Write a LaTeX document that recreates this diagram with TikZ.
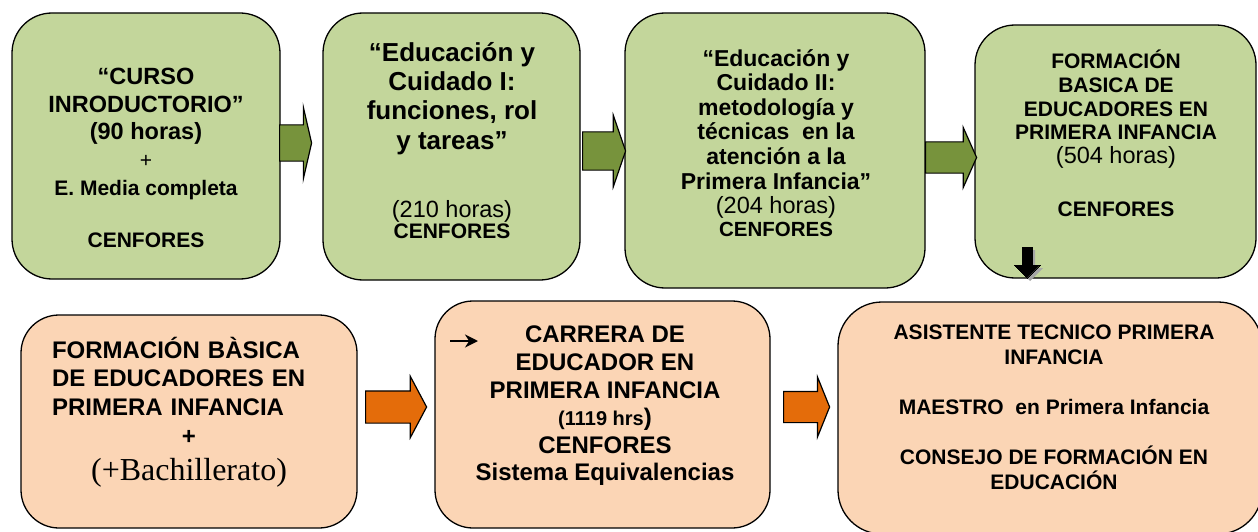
\documentclass[tikz,border=0pt]{standalone}
\usepackage{fontspec}
\setmainfont{Liberation Sans}
\newfontfamily\timesfont{Liberation Serif}
\usetikzlibrary{shapes.arrows,shadows,arrows.meta}

\definecolor{boxgreen}{HTML}{C3D69B}
\definecolor{arrowgreen}{HTML}{77933C}
\definecolor{boxorange}{HTML}{FBD5B5}
\definecolor{arroworange}{HTML}{E46C0A}

\newcommand{\fsz}[2]{\fontsize{#1}{#2}\selectfont}

\tikzset{
  course/.style={draw=black, line width=1.3pt, rounded corners=40pt, inner sep=0pt, fill=boxgreen},
  career/.style={course, rounded corners=38pt, fill=boxorange},
  txt/.style={anchor=north, inner sep=0pt, align=center},
  blockarrow/.style={single arrow, draw=black, line width=1.2pt, inner xsep=0pt, anchor=tail},
  garrow/.style={blockarrow, fill=arrowgreen},
  oarrow/.style={blockarrow, fill=arroworange},
}

\begin{document}
\begin{tikzpicture}[x=1pt,y=-1pt]
    \useasboundingbox (0,0) rectangle (1258,532);

    % first row: the courses
    \node[course, minimum width=268pt, minimum height=266pt] (b1) at (146,146) {};
    \node[course, minimum width=257pt, minimum height=267pt] (b2) at (451.5,146.5) {};
    \node[course, minimum width=300pt, minimum height=275pt] (b3) at (775,150.5) {};
    \node[course, minimum width=281pt, minimum height=253pt] (b4) at (1115.5,151.5) {};

    \node[txt, font=\fsz{23.5}{27.6}\bfseries] (t1) at (146,68) {“CURSO\\
        INRODUCTORIO”\\
        (90 horas)\\
        {\mdseries\fsz{21}{27.6}+}\\
        {\fsz{21}{27.6}E. Media completa}\\[25pt]
        {\fsz{21}{27.6}CENFORES}};
    \node[txt, font=\fsz{26}{29.3}\bfseries] (t2) at (452,42) {“Educación y\\
        Cuidado I:\\
        funciones, rol\\
        y tareas”\\[39pt]
        {\mdseries\fsz{23.5}{29.3}(210 horas)}\\[-8pt]
        {\fsz{21}{29.3}CENFORES}};
    \node[txt, font=\fsz{23}{24.6}\bfseries] (t3) at (776,49) {“Educación y\\
        Cuidado II:\\
        metodología y\\
        técnicas~ en la\\
        atención a la\\
        Primera Infancia”\\
        {\mdseries\fsz{23.5}{24.6}(204 horas)}\\[-1.5pt]
        {\fsz{20.5}{24.6}CENFORES}};
    \node[txt, font=\fsz{21}{23.7}\bfseries] (t4) at (1116,50) {FORMACIÓN\\
        BASICA DE\\
        EDUCADORES EN\\
        PRIMERA INFANCIA\\
        {\mdseries\fsz{23.5}{23.7}(504 horas)}\\[29pt]
        CENFORES};

    \node[garrow, minimum height=32pt, inner ysep=17.5pt, single arrow head extend=17.5pt, single arrow tip angle=154] (a1) at (279,143) {};
    \node[garrow, minimum height=43pt, inner ysep=18.5pt, single arrow head extend=16.5pt, single arrow tip angle=142] (a2) at (582,151) {};
    \node[garrow, minimum height=51pt, inner ysep=15pt, single arrow head extend=14.5pt, single arrow tip angle=132] (a3) at (925,157.5) {};

    % down arrow with its shadow
    \node[blockarrow, shape border rotate=270, fill=black, line width=0pt, minimum height=31pt, inner xsep=5pt, inner ysep=0pt,
        single arrow head extend=8pt, single arrow tip angle=90,
        drop shadow={shadow xshift=3pt, shadow yshift=-3pt, fill=gray!70, opacity=1}] (down) at (1027,247) {};

    % second row: the career
    \node[career, minimum width=336pt, minimum height=213pt] (b5) at (189,421.5) {};
    \node[career, minimum width=335pt, minimum height=227pt] (b6) at (602.5,414.5) {};
    \node[career, rounded corners=44pt, minimum width=424pt, minimum height=232pt] (b7) at (1050,418) {};

    \node[txt, font=\fsz{24}{28.5}\bfseries, text width=274pt, align=left] (t5) at (189,337) {FORMACIÓN BÀSICA\\
        DE EDUCADORES EN\\
        PRIMERA INFANCIA\\[1pt]
        \makebox[274pt]{+}\\[7.5pt]
        \makebox[274pt]{\mdseries\timesfont\fsz{32}{28.5}(+Bachillerato)}};
    \node[txt, font=\fsz{24}{27.6}\bfseries] (t6) at (605,326) {CARRERA DE\\
        EDUCADOR EN\\
        PRIMERA INFANCIA\\
        {\fsz{20}{27.6}(1119 hrs}){}\\
        CENFORES\\
        Sistema Equivalencias};
    \node[txt, font=\fsz{21}{25}\bfseries] (t7) at (1054,325) {ASISTENTE TECNICO PRIMERA\\
        INFANCIA\\[25pt]
        MAESTRO~ en Primera Infancia\\[25pt]
        CONSEJO DE FORMACIÓN EN\\
        EDUCACIÓN};

    \node[oarrow, minimum height=61pt, inner ysep=15.5pt, single arrow head extend=14.5pt, single arrow tip angle=124] (a4) at (365,407) {};
    \node[oarrow, minimum height=46pt, inner ysep=15pt, single arrow head extend=14.5pt, single arrow tip angle=136] (a5) at (783,407) {};

    \coordinate (s0) at (450,341);
    \coordinate (s1) at (478,341);
    \draw[-{Stealth[length=13pt,width=13pt]}, line width=2.2pt] (s0) -- (s1);
\end{tikzpicture}
\end{document}
